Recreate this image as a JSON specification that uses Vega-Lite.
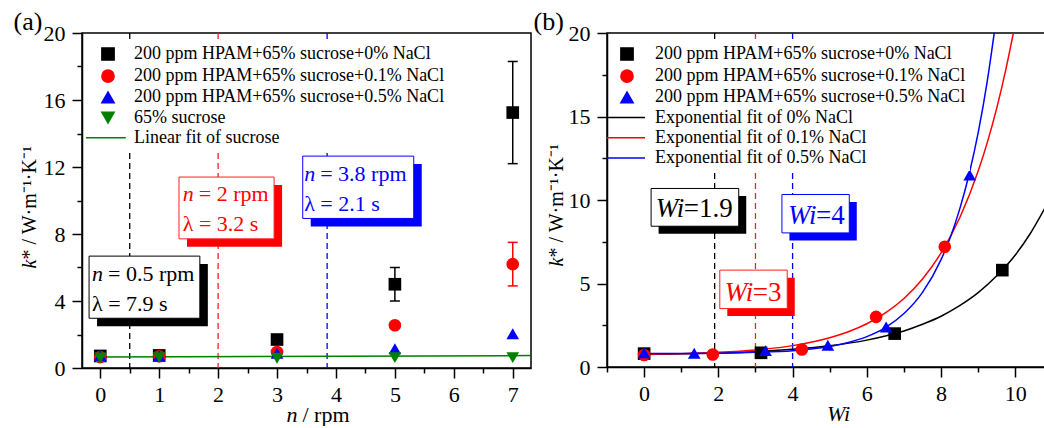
{
"$schema": "https://vega.github.io/schema/vega-lite/v6.json",
"autosize": {"type": "pad"},
"padding": {"left": 12, "top": 7, "right": 0, "bottom": 0},
"background": "white",
"bounds": "flush",
"spacing": 76,
"config": {
  "font": "Liberation Serif",
  "view": {"stroke": "black", "strokeWidth": 1.5},
  "axis": {"grid": false, "domainColor": "black", "domainWidth": 1.5, "tickColor": "black", "tickWidth": 1.5, "labelFont": "Liberation Serif", "labelFontSize": 22, "labelColor": "black", "titleFont": "Liberation Serif", "titleFontSize": 22, "titleFontWeight": "normal", "titleColor": "black"},
  "legend": {"labelFont": "Liberation Serif", "labelFontSize": 18, "labelColor": "black", "labelLimit": 400}
},
"resolve": {"scale": {"color": "independent", "shape": "independent", "fill": "independent", "stroke": "independent", "x": "independent", "y": "independent"}, "legend": {"color": "independent", "shape": "independent"}},
"hconcat": [
{
  "width": 449, "height": 335,
  "resolve": {"axis": {"x": "independent", "y": "independent"}},
  "layer": [
    {
      "data": {"values": [{"xv": 0.5, "g": "a"}, {"xv": 2, "g": "b"}, {"xv": 3.85, "g": "c"}]},
      "mark": {"type": "rule", "strokeDash": [6, 4], "strokeWidth": 1.3},
      "encoding": {
        "x": {"field": "xv", "type": "quantitative", "scale": {"domain": [-0.31, 7.31], "nice": false, "zero": false},
              "axis": {"orient": "bottom", "values": [0,0.5,1,1.5,2,2.5,3,3.5,4,4.5,5,5.5,6,6.5,7], "labelExpr": "datum.value % 1 ? '' : '' + datum.value", "tickSize": {"condition": {"test": "datum.value % 1 != 0", "value": 5}, "value": 10}, "labelPadding": 6, "title": "n", "titleFontStyle": "italic", "titleX": 204, "titleY": 53, "titleAlign": "left", "titleBaseline": "alphabetic"}},
        "stroke": {"field": "g", "type": "nominal", "scale": {"domain": ["a", "b", "c"], "range": ["#000000", "#ff2020", "#0000ff"]}, "legend": null}
      }
    },
    {
      "data": {"values": [{"x": 0, "y": 0.66, "s": "Linear fit of sucrose"}, {"x": 7.3, "y": 0.74, "s": "Linear fit of sucrose"}]},
      "mark": {"type": "line", "strokeWidth": 1.5},
      "encoding": {
        "x": {"field": "x", "type": "quantitative", "scale": {"domain": [-0.31, 7.31], "nice": false, "zero": false},
              "axis": {"orient": "bottom", "domain": false, "ticks": false, "labels": false, "title": "/ rpm", "titleX": 220, "titleY": 53, "titleAlign": "left", "titleBaseline": "alphabetic"}},
        "y": {"field": "y", "type": "quantitative", "scale": {"domain": [0, 20], "nice": false},
              "axis": {"orient": "left", "domain": false, "ticks": false, "labels": false, "title": "* / W·m⁻¹·K⁻¹", "titleFontSize": 20, "titleAngle": -90, "titleX": -53, "titleY": 226, "titleAlign": "left", "titleBaseline": "middle"}},
        "color": {"field": "s", "type": "nominal",
                  "scale": {"domain": ["200 ppm HPAM+65% sucrose+0% NaCl", "200 ppm HPAM+65% sucrose+0.1% NaCl", "200 ppm HPAM+65% sucrose+0.5% NaCl", "65% sucrose", "Linear fit of sucrose"], "range": ["#000000", "#ff0000", "#0000ff", "#008000", "#008000"]},
                  "legend": {"orient": "none", "legendX": 13, "legendY": 8, "title": null, "padding": 4, "fillColor": "white", "symbolSize": 150, "symbolStrokeWidth": 1.5, "labelOffset": 17, "rowPadding": 2.2, "labelFontSize": 18, "labelFont": "Liberation Serif", "labelLimit": 400,
                             "encode": {"symbols": {"update": {"stroke": {"signal": "datum.value === 'Linear fit of sucrose' ? '#008000' : 'transparent'"}, "strokeWidth": {"value": 1.5}}}}}}
      }
    },
    {
      "data": {"values": [{"x1": -0.19, "x2": 1.69, "y1": 2.97, "y2": 6.68, "g": "a"}, {"x1": 1.336, "x2": 2.95, "y1": 7.71, "y2": 11.4, "g": "b"}, {"x1": 3.436, "x2": 5.32, "y1": 8.93, "y2": 12.65, "g": "c"}]},
      "mark": {"type": "rect", "xOffset": 8, "x2Offset": 8, "yOffset": 8, "y2Offset": 8},
      "encoding": {
        "x": {"field": "x1", "type": "quantitative", "scale": {"domain": [-0.31, 7.31], "nice": false, "zero": false}, "axis": null},
        "x2": {"field": "x2"},
        "y": {"field": "y1", "type": "quantitative", "scale": {"domain": [0, 20], "nice": false}, "axis": null},
        "y2": {"field": "y2"},
        "fill": {"field": "g", "type": "nominal", "scale": {"domain": ["a", "b", "c"], "range": ["#000000", "#ff0000", "#0000ff"]}, "legend": null}
      }
    },
    {
      "data": {"values": [{"x1": -0.19, "x2": 1.69, "y1": 2.97, "y2": 6.68, "g": "a"}, {"x1": 1.336, "x2": 2.95, "y1": 7.71, "y2": 11.4, "g": "b"}, {"x1": 3.436, "x2": 5.32, "y1": 8.93, "y2": 12.65, "g": "c"}]},
      "mark": {"type": "rect", "fill": "white", "strokeWidth": 1},
      "encoding": {
        "x": {"field": "x1", "type": "quantitative", "scale": {"domain": [-0.31, 7.31], "nice": false, "zero": false}, "axis": null},
        "x2": {"field": "x2"},
        "y": {"field": "y1", "type": "quantitative", "scale": {"domain": [0, 20], "nice": false}, "axis": null},
        "y2": {"field": "y2"},
        "stroke": {"field": "g", "type": "nominal", "legend": null}
      }
    },
    {
      "data": {"values": [{"x": -0.14, "y": 5.18, "t": "n", "g": "a"}, {"x": 1.40, "y": 9.96, "t": "n", "g": "b"}, {"x": 3.46, "y": 11.16, "t": "n", "g": "c"}]},
      "mark": {"type": "text", "font": "Liberation Serif", "fontSize": 22, "fontStyle": "italic", "align": "left", "baseline": "alphabetic"},
      "encoding": {
        "x": {"field": "x", "type": "quantitative", "axis": null},
        "y": {"field": "y", "type": "quantitative", "axis": null},
        "text": {"field": "t"},
        "fill": {"field": "g", "type": "nominal", "legend": null}
      }
    },
    {
      "data": {"values": [{"x": -0.14, "y": 5.18, "t": "= 0.5 rpm", "g": "a"}, {"x": 1.40, "y": 9.96, "t": "= 2 rpm", "g": "b"}, {"x": 3.46, "y": 11.16, "t": "= 3.8 rpm", "g": "c"}]},
      "mark": {"type": "text", "font": "Liberation Serif", "fontSize": 22, "align": "left", "baseline": "alphabetic", "dx": 16},
      "encoding": {
        "x": {"field": "x", "type": "quantitative", "axis": null},
        "y": {"field": "y", "type": "quantitative", "axis": null},
        "text": {"field": "t"},
        "fill": {"field": "g", "type": "nominal", "legend": null}
      }
    },
    {
      "data": {"values": [{"x": -0.14, "y": 3.39, "t": "λ = 7.9 s", "g": "a"}, {"x": 1.40, "y": 8.17, "t": "λ = 3.2 s", "g": "b"}, {"x": 3.46, "y": 9.37, "t": "λ = 2.1 s", "g": "c"}]},
      "mark": {"type": "text", "font": "Liberation Serif", "fontSize": 22, "align": "left", "baseline": "alphabetic"},
      "encoding": {
        "x": {"field": "x", "type": "quantitative", "axis": null},
        "y": {"field": "y", "type": "quantitative", "axis": null},
        "text": {"field": "t"},
        "fill": {"field": "g", "type": "nominal", "legend": null}
      }
    },
    {
      "data": {"values": [{"x": 5, "lo": 4.0, "hi": 6.0, "s": "200 ppm HPAM+65% sucrose+0% NaCl"}, {"x": 7, "lo": 12.2, "hi": 18.3, "s": "200 ppm HPAM+65% sucrose+0% NaCl"}, {"x": 7, "lo": 4.9, "hi": 7.5, "s": "200 ppm HPAM+65% sucrose+0.1% NaCl"}]},
      "mark": {"type": "rule", "strokeWidth": 1.5},
      "encoding": {
        "x": {"field": "x", "type": "quantitative", "axis": null},
        "y": {"field": "lo", "type": "quantitative",
              "axis": {"orient": "left", "domain": false, "ticks": false, "labels": false, "title": "(a)", "titleAngle": 0, "titleX": -69, "titleY": -4, "titleAlign": "left", "titleBaseline": "alphabetic", "titleFontSize": 26}},
        "y2": {"field": "hi"},
        "color": {"field": "s", "type": "nominal"}
      }
    },
    {
      "data": {"values": [{"x": 5, "y": 4.0, "s": "200 ppm HPAM+65% sucrose+0% NaCl"}, {"x": 5, "y": 6.0, "s": "200 ppm HPAM+65% sucrose+0% NaCl"}, {"x": 7, "y": 12.2, "s": "200 ppm HPAM+65% sucrose+0% NaCl"}, {"x": 7, "y": 18.3, "s": "200 ppm HPAM+65% sucrose+0% NaCl"}, {"x": 7, "y": 4.9, "s": "200 ppm HPAM+65% sucrose+0.1% NaCl"}, {"x": 7, "y": 7.5, "s": "200 ppm HPAM+65% sucrose+0.1% NaCl"}]},
      "mark": {"type": "tick", "orient": "horizontal", "size": 10, "thickness": 1.5, "opacity": 1},
      "encoding": {
        "x": {"field": "x", "type": "quantitative", "axis": null},
        "y": {"field": "y", "type": "quantitative", "axis": null},
        "color": {"field": "s", "type": "nominal"}
      }
    },
    {
      "data": {"values": [
        {"x": 0, "y": 0.72, "s": "200 ppm HPAM+65% sucrose+0% NaCl"}, {"x": 1, "y": 0.75, "s": "200 ppm HPAM+65% sucrose+0% NaCl"}, {"x": 3, "y": 1.7, "s": "200 ppm HPAM+65% sucrose+0% NaCl"}, {"x": 5, "y": 5.0, "s": "200 ppm HPAM+65% sucrose+0% NaCl"}, {"x": 7, "y": 15.25, "s": "200 ppm HPAM+65% sucrose+0% NaCl"},
        {"x": 0, "y": 0.65, "s": "200 ppm HPAM+65% sucrose+0.1% NaCl"}, {"x": 1, "y": 0.7, "s": "200 ppm HPAM+65% sucrose+0.1% NaCl"}, {"x": 3, "y": 0.95, "s": "200 ppm HPAM+65% sucrose+0.1% NaCl"}, {"x": 5, "y": 2.55, "s": "200 ppm HPAM+65% sucrose+0.1% NaCl"}, {"x": 7, "y": 6.2, "s": "200 ppm HPAM+65% sucrose+0.1% NaCl"},
        {"x": 0, "y": 0.75, "s": "200 ppm HPAM+65% sucrose+0.5% NaCl"}, {"x": 1, "y": 0.72, "s": "200 ppm HPAM+65% sucrose+0.5% NaCl"}, {"x": 3, "y": 0.88, "s": "200 ppm HPAM+65% sucrose+0.5% NaCl"}, {"x": 5, "y": 1.15, "s": "200 ppm HPAM+65% sucrose+0.5% NaCl"}, {"x": 7, "y": 2.05, "s": "200 ppm HPAM+65% sucrose+0.5% NaCl"},
        {"x": 0, "y": 0.6, "s": "65% sucrose"}, {"x": 1, "y": 0.62, "s": "65% sucrose"}, {"x": 3, "y": 0.58, "s": "65% sucrose"}, {"x": 5, "y": 0.62, "s": "65% sucrose"}, {"x": 7, "y": 0.62, "s": "65% sucrose"}
      ]},
      "mark": {"type": "point", "filled": true, "size": 160, "opacity": 1},
      "encoding": {
        "x": {"field": "x", "type": "quantitative", "axis": null},
        "y": {"field": "y", "type": "quantitative", "scale": {"domain": [0, 20], "nice": false},
              "axis": {"orient": "left", "values": [0,2,4,6,8,10,12,14,16,18,20], "labelExpr": "datum.value % 4 ? '' : '' + datum.value", "tickSize": {"condition": {"test": "datum.value % 4 != 0", "value": 5}, "value": 10}, "labelPadding": 7, "title": "k", "titleFontStyle": "italic", "titleFontSize": 20, "titleAngle": -90, "titleX": -53, "titleY": 235, "titleAlign": "left", "titleBaseline": "middle"}},
        "color": {"field": "s", "type": "nominal",
                  "legend": {"orient": "none", "legendX": 13, "legendY": 8, "title": null, "padding": 4, "fillColor": "white", "symbolSize": 150, "symbolStrokeWidth": 1.5, "labelOffset": 17, "rowPadding": 2.2, "labelFontSize": 18, "labelFont": "Liberation Serif", "labelLimit": 400,
                             "encode": {"symbols": {"update": {"stroke": {"signal": "datum.value === 'Linear fit of sucrose' ? '#008000' : 'transparent'"}, "strokeWidth": {"value": 1.5}}}}}},
        "shape": {"field": "s", "type": "nominal",
                  "scale": {"domain": ["200 ppm HPAM+65% sucrose+0% NaCl", "200 ppm HPAM+65% sucrose+0.1% NaCl", "200 ppm HPAM+65% sucrose+0.5% NaCl", "65% sucrose", "Linear fit of sucrose"], "range": ["square", "circle", "triangle-up", "triangle-down", "M-3.6,0H2.9"]},
                  "legend": {"orient": "none", "legendX": 13, "legendY": 8, "title": null, "padding": 4, "fillColor": "white", "symbolSize": 150, "symbolStrokeWidth": 1.5, "labelOffset": 17, "rowPadding": 2.2, "labelFontSize": 18, "labelFont": "Liberation Serif", "labelLimit": 400,
                             "encode": {"symbols": {"update": {"stroke": {"signal": "datum.value === 'Linear fit of sucrose' ? '#008000' : 'transparent'"}, "strokeWidth": {"value": 1.5}}}}}}
      }
    }
  ]
},
{
  "width": 438, "height": 334,
  "resolve": {"axis": {"x": "independent", "y": "independent"}},
  "layer": [
    {
      "data": {"values": [{"xv": 1.9, "g": "a"}, {"xv": 3.0, "g": "b"}, {"xv": 4.0, "g": "c"}]},
      "mark": {"type": "rule", "strokeDash": [6, 4], "strokeWidth": 1.3},
      "encoding": {
        "x": {"field": "xv", "type": "quantitative", "scale": {"domain": [-1, 10.8], "nice": false, "zero": false},
              "axis": {"orient": "bottom", "values": [-1,0,1,2,3,4,5,6,7,8,9,10], "labelExpr": "datum.value % 2 ? '' : '' + datum.value", "tickSize": {"condition": {"test": "datum.value % 2 != 0", "value": 5}, "value": 10}, "labelPadding": 6, "title": "Wi", "titleFontStyle": "italic", "titleX": 231, "titleY": 53, "titleAlign": "center", "titleBaseline": "alphabetic"}},
        "stroke": {"field": "g", "type": "nominal", "scale": {"domain": ["a", "b", "c"], "range": ["#000000", "#ff2020", "#0000ff"]}, "legend": null}
      }
    },
    {
      "data": {"values": [
        {"x": 0, "y": 0.75, "s": "Exponential fit of 0% NaCl"}, {"x": 1, "y": 0.79, "s": "Exponential fit of 0% NaCl"}, {"x": 2, "y": 0.84, "s": "Exponential fit of 0% NaCl"}, {"x": 3, "y": 0.92, "s": "Exponential fit of 0% NaCl"}, {"x": 4, "y": 1.06, "s": "Exponential fit of 0% NaCl"}, {"x": 5, "y": 1.27, "s": "Exponential fit of 0% NaCl"}, {"x": 6, "y": 1.61, "s": "Exponential fit of 0% NaCl"}, {"x": 6.5, "y": 1.86, "s": "Exponential fit of 0% NaCl"}, {"x": 7, "y": 2.16, "s": "Exponential fit of 0% NaCl"}, {"x": 7.5, "y": 2.56, "s": "Exponential fit of 0% NaCl"}, {"x": 8, "y": 3.04, "s": "Exponential fit of 0% NaCl"}, {"x": 8.5, "y": 3.67, "s": "Exponential fit of 0% NaCl"}, {"x": 9, "y": 4.45, "s": "Exponential fit of 0% NaCl"}, {"x": 9.5, "y": 5.46, "s": "Exponential fit of 0% NaCl"}, {"x": 10, "y": 6.71, "s": "Exponential fit of 0% NaCl"}, {"x": 10.4, "y": 7.98, "s": "Exponential fit of 0% NaCl"}, {"x": 10.8, "y": 9.52, "s": "Exponential fit of 0% NaCl"},
        {"x": 0, "y": 0.76, "s": "Exponential fit of 0.1% NaCl"}, {"x": 1, "y": 0.80, "s": "Exponential fit of 0.1% NaCl"}, {"x": 2, "y": 0.88, "s": "Exponential fit of 0.1% NaCl"}, {"x": 3, "y": 1.02, "s": "Exponential fit of 0.1% NaCl"}, {"x": 4, "y": 1.28, "s": "Exponential fit of 0.1% NaCl"}, {"x": 5, "y": 1.75, "s": "Exponential fit of 0.1% NaCl"}, {"x": 5.5, "y": 2.11, "s": "Exponential fit of 0.1% NaCl"}, {"x": 6, "y": 2.59, "s": "Exponential fit of 0.1% NaCl"}, {"x": 6.5, "y": 3.24, "s": "Exponential fit of 0.1% NaCl"}, {"x": 7, "y": 4.10, "s": "Exponential fit of 0.1% NaCl"}, {"x": 7.5, "y": 5.27, "s": "Exponential fit of 0.1% NaCl"}, {"x": 8, "y": 6.83, "s": "Exponential fit of 0.1% NaCl"}, {"x": 8.5, "y": 8.92, "s": "Exponential fit of 0.1% NaCl"}, {"x": 9, "y": 11.73, "s": "Exponential fit of 0.1% NaCl"}, {"x": 9.25, "y": 13.48, "s": "Exponential fit of 0.1% NaCl"}, {"x": 9.5, "y": 15.5, "s": "Exponential fit of 0.1% NaCl"}, {"x": 9.75, "y": 17.87, "s": "Exponential fit of 0.1% NaCl"}, {"x": 10, "y": 20.58, "s": "Exponential fit of 0.1% NaCl"},
        {"x": 0, "y": 0.81, "s": "Exponential fit of 0.5% NaCl"}, {"x": 1, "y": 0.81, "s": "Exponential fit of 0.5% NaCl"}, {"x": 2, "y": 0.83, "s": "Exponential fit of 0.5% NaCl"}, {"x": 3, "y": 0.88, "s": "Exponential fit of 0.5% NaCl"}, {"x": 4, "y": 0.98, "s": "Exponential fit of 0.5% NaCl"}, {"x": 4.5, "y": 1.08, "s": "Exponential fit of 0.5% NaCl"}, {"x": 5, "y": 1.23, "s": "Exponential fit of 0.5% NaCl"}, {"x": 5.5, "y": 1.47, "s": "Exponential fit of 0.5% NaCl"}, {"x": 6, "y": 1.82, "s": "Exponential fit of 0.5% NaCl"}, {"x": 6.5, "y": 2.36, "s": "Exponential fit of 0.5% NaCl"}, {"x": 7, "y": 3.20, "s": "Exponential fit of 0.5% NaCl"}, {"x": 7.5, "y": 4.47, "s": "Exponential fit of 0.5% NaCl"}, {"x": 8, "y": 6.43, "s": "Exponential fit of 0.5% NaCl"}, {"x": 8.25, "y": 7.77, "s": "Exponential fit of 0.5% NaCl"}, {"x": 8.5, "y": 9.44, "s": "Exponential fit of 0.5% NaCl"}, {"x": 8.75, "y": 11.5, "s": "Exponential fit of 0.5% NaCl"}, {"x": 9, "y": 14.04, "s": "Exponential fit of 0.5% NaCl"}, {"x": 9.25, "y": 17.2, "s": "Exponential fit of 0.5% NaCl"}, {"x": 9.5, "y": 21.1, "s": "Exponential fit of 0.5% NaCl"}
      ]},
      "mark": {"type": "line", "strokeWidth": 1.5, "clip": true, "interpolate": "monotone"},
      "encoding": {
        "x": {"field": "x", "type": "quantitative", "scale": {"domain": [-1, 10.8], "nice": false, "zero": false}, "axis": null},
        "y": {"field": "y", "type": "quantitative", "scale": {"domain": [0, 20], "nice": false},
              "axis": {"orient": "left", "domain": false, "ticks": false, "labels": false, "title": "* / W·m⁻¹·K⁻¹", "titleFontSize": 20, "titleAngle": -90, "titleX": -51, "titleY": 224, "titleAlign": "left", "titleBaseline": "middle"}},
        "color": {"field": "s", "type": "nominal",
                  "scale": {"domain": ["200 ppm HPAM+65% sucrose+0% NaCl", "200 ppm HPAM+65% sucrose+0.1% NaCl", "200 ppm HPAM+65% sucrose+0.5% NaCl", "Exponential fit of 0% NaCl", "Exponential fit of 0.1% NaCl", "Exponential fit of 0.5% NaCl"], "range": ["#000000", "#ff0000", "#0000ff", "#000000", "#ff0000", "#0000ff"]},
                  "legend": {"orient": "none", "legendX": 7, "legendY": 8, "title": null, "padding": 4, "fillColor": "white", "symbolSize": 150, "symbolStrokeWidth": 1.5, "labelOffset": 19, "rowPadding": 2.2, "labelFontSize": 18, "labelFont": "Liberation Serif", "labelLimit": 400,
                             "encode": {"symbols": {"update": {"stroke": {"signal": "indexof(datum.value, 'Exponential') == 0 ? (indexof(datum.value, '0.1%') > 0 ? '#ff0000' : (indexof(datum.value, '0.5%') > 0 ? '#0000ff' : '#000000')) : 'transparent'"}, "strokeWidth": {"value": 1.5}}}}}}
      }
    },
    {
      "data": {"values": [{"x1": 0.188, "x2": 2.549, "y1": 8.43, "y2": 10.69, "g": "a"}, {"x1": 2.039, "x2": 3.856, "y1": 3.50, "y2": 5.80, "g": "b"}, {"x1": 3.713, "x2": 5.527, "y1": 8.03, "y2": 10.33, "g": "c"}]},
      "mark": {"type": "rect", "xOffset": 7.5, "x2Offset": 7.5, "yOffset": 7.5, "y2Offset": 7.5},
      "encoding": {
        "x": {"field": "x1", "type": "quantitative", "axis": null},
        "x2": {"field": "x2"},
        "y": {"field": "y1", "type": "quantitative",
              "axis": {"orient": "left", "domain": false, "ticks": false, "labels": false, "title": "(b)", "titleAngle": 0, "titleX": -74, "titleY": -4, "titleAlign": "left", "titleBaseline": "alphabetic", "titleFontSize": 26}},
        "y2": {"field": "y2"},
        "fill": {"field": "g", "type": "nominal", "scale": {"domain": ["a", "b", "c"], "range": ["#000000", "#ff0000", "#0000ff"]}, "legend": null}
      }
    },
    {
      "data": {"values": [{"x1": 0.188, "x2": 2.549, "y1": 8.43, "y2": 10.69, "g": "a"}, {"x1": 2.039, "x2": 3.856, "y1": 3.50, "y2": 5.80, "g": "b"}, {"x1": 3.713, "x2": 5.527, "y1": 8.03, "y2": 10.33, "g": "c"}]},
      "mark": {"type": "rect", "fill": "white", "strokeWidth": 1},
      "encoding": {
        "x": {"field": "x1", "type": "quantitative", "axis": null},
        "x2": {"field": "x2"},
        "y": {"field": "y1", "type": "quantitative", "axis": null},
        "y2": {"field": "y2"},
        "stroke": {"field": "g", "type": "nominal", "legend": null}
      }
    },
    {
      "data": {"values": [{"x": 0.314, "y": 8.97, "t": "Wi", "g": "a"}, {"x": 2.173, "y": 3.98, "t": "Wi", "g": "b"}, {"x": 3.874, "y": 8.57, "t": "Wi", "g": "c"}]},
      "mark": {"type": "text", "font": "Liberation Serif", "fontSize": 27, "fontStyle": "italic", "align": "left", "baseline": "alphabetic"},
      "encoding": {
        "x": {"field": "x", "type": "quantitative", "axis": null},
        "y": {"field": "y", "type": "quantitative", "axis": null},
        "text": {"field": "t"},
        "fill": {"field": "g", "type": "nominal", "legend": null}
      }
    },
    {
      "data": {"values": [{"x": 0.314, "y": 8.97, "t": "=1.9", "g": "a"}, {"x": 2.173, "y": 3.98, "t": "=3", "g": "b"}, {"x": 3.874, "y": 8.57, "t": "=4", "g": "c"}]},
      "mark": {"type": "text", "font": "Liberation Serif", "fontSize": 27, "align": "left", "baseline": "alphabetic", "dx": 28},
      "encoding": {
        "x": {"field": "x", "type": "quantitative", "axis": null},
        "y": {"field": "y", "type": "quantitative", "axis": null},
        "text": {"field": "t"},
        "fill": {"field": "g", "type": "nominal", "legend": null}
      }
    },
    {
      "data": {"values": [
        {"x": 0, "y": 0.8, "s": "200 ppm HPAM+65% sucrose+0% NaCl"}, {"x": 3.15, "y": 0.85, "s": "200 ppm HPAM+65% sucrose+0% NaCl"}, {"x": 6.75, "y": 2.0, "s": "200 ppm HPAM+65% sucrose+0% NaCl"}, {"x": 9.65, "y": 5.8, "s": "200 ppm HPAM+65% sucrose+0% NaCl"},
        {"x": 0, "y": 0.72, "s": "200 ppm HPAM+65% sucrose+0.1% NaCl"}, {"x": 1.85, "y": 0.75, "s": "200 ppm HPAM+65% sucrose+0.1% NaCl"}, {"x": 4.25, "y": 1.05, "s": "200 ppm HPAM+65% sucrose+0.1% NaCl"}, {"x": 6.25, "y": 3.0, "s": "200 ppm HPAM+65% sucrose+0.1% NaCl"}, {"x": 8.1, "y": 7.2, "s": "200 ppm HPAM+65% sucrose+0.1% NaCl"},
        {"x": 0, "y": 0.85, "s": "200 ppm HPAM+65% sucrose+0.5% NaCl"}, {"x": 1.35, "y": 0.82, "s": "200 ppm HPAM+65% sucrose+0.5% NaCl"}, {"x": 3.27, "y": 0.98, "s": "200 ppm HPAM+65% sucrose+0.5% NaCl"}, {"x": 4.95, "y": 1.3, "s": "200 ppm HPAM+65% sucrose+0.5% NaCl"}, {"x": 6.52, "y": 2.4, "s": "200 ppm HPAM+65% sucrose+0.5% NaCl"}, {"x": 8.77, "y": 11.5, "s": "200 ppm HPAM+65% sucrose+0.5% NaCl"}
      ]},
      "mark": {"type": "point", "filled": true, "size": 160, "opacity": 1},
      "encoding": {
        "x": {"field": "x", "type": "quantitative", "axis": null},
        "y": {"field": "y", "type": "quantitative", "scale": {"domain": [0, 20], "nice": false},
              "axis": {"orient": "left", "values": [0,2.5,5,7.5,10,12.5,15,17.5,20], "labelExpr": "datum.value % 5 ? '' : '' + datum.value", "tickSize": {"condition": {"test": "datum.value % 5 != 0", "value": 5}, "value": 10}, "labelPadding": 7, "title": "k", "titleFontStyle": "italic", "titleFontSize": 20, "titleAngle": -90, "titleX": -51, "titleY": 233, "titleAlign": "left", "titleBaseline": "middle"}},
        "color": {"field": "s", "type": "nominal",
                  "legend": {"orient": "none", "legendX": 7, "legendY": 8, "title": null, "padding": 4, "fillColor": "white", "symbolSize": 150, "symbolStrokeWidth": 1.5, "labelOffset": 19, "rowPadding": 2.2, "labelFontSize": 18, "labelFont": "Liberation Serif", "labelLimit": 400,
                             "encode": {"symbols": {"update": {"stroke": {"signal": "indexof(datum.value, 'Exponential') == 0 ? (indexof(datum.value, '0.1%') > 0 ? '#ff0000' : (indexof(datum.value, '0.5%') > 0 ? '#0000ff' : '#000000')) : 'transparent'"}, "strokeWidth": {"value": 1.5}}}}}},
        "shape": {"field": "s", "type": "nominal",
                  "scale": {"domain": ["200 ppm HPAM+65% sucrose+0% NaCl", "200 ppm HPAM+65% sucrose+0.1% NaCl", "200 ppm HPAM+65% sucrose+0.5% NaCl", "Exponential fit of 0% NaCl", "Exponential fit of 0.1% NaCl", "Exponential fit of 0.5% NaCl"], "range": ["square", "circle", "triangle-up", "M-3.27,0H2.94", "M-3.27,0H2.94", "M-3.27,0H2.94"]},
                  "legend": {"orient": "none", "legendX": 7, "legendY": 8, "title": null, "padding": 4, "fillColor": "white", "symbolSize": 150, "symbolStrokeWidth": 1.5, "labelOffset": 19, "rowPadding": 2.2, "labelFontSize": 18, "labelFont": "Liberation Serif", "labelLimit": 400,
                             "encode": {"symbols": {"update": {"stroke": {"signal": "indexof(datum.value, 'Exponential') == 0 ? (indexof(datum.value, '0.1%') > 0 ? '#ff0000' : (indexof(datum.value, '0.5%') > 0 ? '#0000ff' : '#000000')) : 'transparent'"}, "strokeWidth": {"value": 1.5}}}}}}
      }
    }
  ]
}
]
}
